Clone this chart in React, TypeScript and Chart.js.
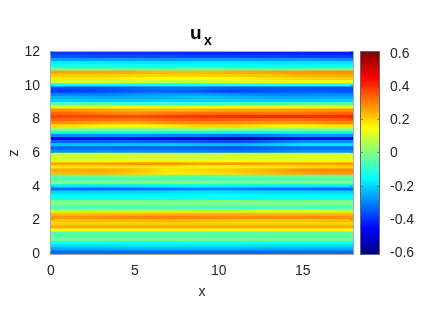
import React, { useEffect, useRef } from "react";
import { Chart, registerables } from "chart.js";

Chart.register(...registerables);

const FONT = "'Liberation Sans', Arial, sans-serif";
const INK = "#262626";

const X_COLUMNS = [1, 3, 5, 7, 9, 11, 13, 15, 17];
const X_MAX = 18;
const Z_MAX = 12;
const X_TICKS = [0, 5, 10, 15];
const Z_TICKS = [0, 2, 4, 6, 8, 10, 12];
const C_TICKS = [-0.6, -0.4, -0.2, 0, 0.2, 0.4, 0.6];
const C_MIN = -0.606;
const C_MAX = 0.612;

// Rows from the top (z = 12) to the bottom (z = 0), one value per x column.
const U_X: number[][] = [
  [-0.38, -0.39, -0.39, -0.4, -0.4, -0.41, -0.41, -0.41, -0.42],
  [-0.35, -0.36, -0.36, -0.36, -0.37, -0.37, -0.37, -0.38, -0.38],
  [-0.26, -0.26, -0.26, -0.27, -0.26, -0.26, -0.27, -0.27, -0.28],
  [-0.17, -0.17, -0.18, -0.18, -0.17, -0.17, -0.18, -0.18, -0.18],
  [-0.13, -0.13, -0.14, -0.14, -0.15, -0.15, -0.15, -0.14, -0.14],
  [-0.02, -0.02, -0.03, -0.03, -0.02, -0.02, -0.03, -0.02, -0.01],
  [0.26, 0.26, 0.25, 0.23, 0.23, 0.25, 0.26, 0.27, 0.28],
  [0.21, 0.21, 0.2, 0.2, 0.2, 0.21, 0.22, 0.24, 0.25],
  [0.18, 0.18, 0.16, 0.15, 0.15, 0.16, 0.18, 0.2, 0.21],
  [0.1, 0.1, 0.09, 0.08, 0.09, 0.11, 0.12, 0.13, 0.13],
  [-0.13, -0.13, -0.13, -0.13, -0.12, -0.12, -0.12, -0.12, -0.12],
  [-0.36, -0.36, -0.34, -0.32, -0.33, -0.35, -0.35, -0.36, -0.36],
  [-0.38, -0.36, -0.34, -0.33, -0.35, -0.37, -0.35, -0.34, -0.35],
  [-0.3, -0.3, -0.28, -0.27, -0.27, -0.29, -0.3, -0.29, -0.29],
  [-0.24, -0.25, -0.25, -0.24, -0.22, -0.23, -0.25, -0.25, -0.25],
  [-0.2, -0.21, -0.21, -0.2, -0.2, -0.2, -0.21, -0.21, -0.2],
  [-0.06, -0.06, -0.07, -0.07, -0.07, -0.06, -0.05, -0.05, -0.05],
  [0.12, 0.12, 0.12, 0.11, 0.12, 0.13, 0.13, 0.13, 0.12],
  [0.28, 0.26, 0.24, 0.24, 0.25, 0.26, 0.26, 0.27, 0.28],
  [0.33, 0.3, 0.28, 0.3, 0.32, 0.32, 0.31, 0.31, 0.33],
  [0.37, 0.37, 0.36, 0.38, 0.39, 0.4, 0.4, 0.4, 0.4],
  [0.33, 0.32, 0.31, 0.33, 0.34, 0.33, 0.32, 0.32, 0.34],
  [0.28, 0.26, 0.25, 0.28, 0.29, 0.28, 0.27, 0.27, 0.29],
  [0.19, 0.16, 0.14, 0.17, 0.2, 0.2, 0.17, 0.16, 0.18],
  [0.04, 0.03, 0.02, 0.03, 0.05, 0.05, 0.03, 0.03, 0.04],
  [-0.11, -0.12, -0.12, -0.12, -0.12, -0.13, -0.14, -0.13, -0.12],
  [-0.28, -0.28, -0.28, -0.29, -0.3, -0.32, -0.3, -0.27, -0.27],
  [-0.45, -0.46, -0.47, -0.49, -0.51, -0.55, -0.54, -0.48, -0.47],
  [-0.33, -0.33, -0.33, -0.34, -0.35, -0.37, -0.33, -0.28, -0.28],
  [-0.22, -0.22, -0.22, -0.21, -0.22, -0.23, -0.21, -0.18, -0.18],
  [-0.33, -0.33, -0.34, -0.34, -0.35, -0.36, -0.34, -0.33, -0.33],
  [-0.28, -0.28, -0.28, -0.29, -0.29, -0.31, -0.3, -0.28, -0.28],
  [0.08, 0.08, 0.09, 0.09, 0.08, 0.08, 0.08, 0.09, 0.09],
  [0.09, 0.09, 0.1, 0.1, 0.09, 0.1, 0.1, 0.11, 0.11],
  [0.13, 0.13, 0.15, 0.16, 0.14, 0.15, 0.14, 0.14, 0.15],
  [0.26, 0.26, 0.28, 0.28, 0.26, 0.27, 0.26, 0.26, 0.26],
  [0.18, 0.18, 0.18, 0.18, 0.16, 0.16, 0.18, 0.19, 0.2],
  [0.25, 0.25, 0.23, 0.18, 0.2, 0.22, 0.24, 0.28, 0.29],
  [0.23, 0.24, 0.21, 0.17, 0.18, 0.2, 0.23, 0.26, 0.27],
  [-0.04, -0.04, -0.03, -0.04, -0.05, -0.04, -0.03, -0.03, -0.03],
  [-0.06, -0.06, -0.05, -0.05, -0.06, -0.06, -0.06, -0.05, -0.05],
  [0, 0, 0, 0.01, 0, -0.01, -0.01, 0, 0],
  [-0.17, -0.18, -0.17, -0.16, -0.16, -0.16, -0.17, -0.17, -0.17],
  [-0.32, -0.33, -0.32, -0.31, -0.29, -0.29, -0.31, -0.32, -0.33],
  [-0.2, -0.2, -0.2, -0.19, -0.18, -0.19, -0.2, -0.2, -0.2],
  [-0.15, -0.15, -0.15, -0.16, -0.15, -0.15, -0.15, -0.15, -0.15],
  [-0.14, -0.14, -0.14, -0.14, -0.14, -0.15, -0.15, -0.15, -0.14],
  [0, 0, 0, 0, 0, 0, 0, 0, 0],
  [-0.02, -0.02, -0.02, -0.02, -0.02, -0.02, -0.02, -0.02, -0.02],
  [-0.07, -0.07, -0.07, -0.07, -0.08, -0.08, -0.07, -0.07, -0.07],
  [0.1, 0.1, 0.1, 0.1, 0.1, 0.1, 0.11, 0.11, 0.1],
  [0.23, 0.23, 0.23, 0.24, 0.24, 0.24, 0.23, 0.23, 0.23],
  [0.27, 0.28, 0.29, 0.3, 0.29, 0.28, 0.28, 0.28, 0.28],
  [0.22, 0.23, 0.23, 0.24, 0.23, 0.22, 0.22, 0.22, 0.23],
  [0.2, 0.2, 0.2, 0.21, 0.21, 0.2, 0.2, 0.2, 0.2],
  [0.25, 0.25, 0.25, 0.25, 0.25, 0.25, 0.25, 0.25, 0.25],
  [0.15, 0.15, 0.15, 0.15, 0.15, 0.15, 0.15, 0.15, 0.15],
  [-0.06, -0.06, -0.06, -0.06, -0.06, -0.06, -0.05, -0.05, -0.05],
  [-0.04, -0.04, -0.04, -0.04, -0.04, -0.04, -0.04, -0.04, -0.04],
  [-0.02, -0.02, -0.02, -0.02, -0.02, -0.02, -0.02, -0.02, -0.02],
  [-0.13, -0.13, -0.13, -0.13, -0.12, -0.12, -0.13, -0.13, -0.13],
  [-0.19, -0.19, -0.18, -0.18, -0.18, -0.18, -0.19, -0.19, -0.19],
  [-0.25, -0.25, -0.24, -0.24, -0.24, -0.24, -0.25, -0.25, -0.25],
  [-0.33, -0.33, -0.33, -0.33, -0.33, -0.33, -0.33, -0.33, -0.33],
];

const JET: [number, number, number][] = [
  [0, 0, 128],
  [0, 0, 255],
  [0, 255, 255],
  [255, 255, 0],
  [255, 0, 0],
  [128, 0, 0],
];
const JET_POS = [0, 0.125, 0.375, 0.625, 0.875, 1];

function jet(v: number): string {
  const t = Math.min(1, Math.max(0, (v + 0.6) / 1.2));
  let k = 0;
  while (k < JET_POS.length - 2 && t > JET_POS[k + 1]) k++;
  const f = (t - JET_POS[k]) / (JET_POS[k + 1] - JET_POS[k]);
  const c = JET[k].map((a, i) => Math.round(a + (JET[k + 1][i] - a) * f));
  return `rgb(${c[0]},${c[1]},${c[2]})`;
}

const rows = U_X.map((values, r) => ({
  x: [0, X_MAX],
  y: Z_MAX - ((r + 0.5) * Z_MAX) / U_X.length,
  values,
}));

const tickFont = { family: FONT, size: 14 };

const frame = {
  id: "frame",
  afterDatasetsDraw(chart: any, _a: any, opts: any) {
    const { left, top, right, bottom } = chart.chartArea;
    const g = chart.ctx;
    g.save();
    g.strokeStyle = opts.color;
    g.lineWidth = 1;
    g.strokeRect(left - 0.5, top - 0.5, right - left + 1, bottom - top + 1);
    g.strokeStyle = opts.tickColor;
    const len = opts.tickLength;
    g.beginPath();
    const ys = chart.scales.y;
    ys.ticks.forEach((t: any) => {
      const p = Math.round(ys.getPixelForValue(t.value)) - 0.5;
      if (opts.leftTicks) {
        g.moveTo(left, p);
        g.lineTo(left + len, p);
      }
      g.moveTo(right, p);
      g.lineTo(right - len, p);
    });
    const xs = chart.scales.x;
    if (opts.xTicks) {
      xs.ticks.forEach((t: any) => {
        const p = Math.round(xs.getPixelForValue(t.value)) - 0.5;
        g.moveTo(p, bottom);
        g.lineTo(p, bottom - len);
        g.moveTo(p, top);
        g.lineTo(p, top + len);
      });
    }
    g.stroke();
    g.restore();
  },
};

const titleText = {
  id: "titleText",
  afterDraw(chart: any) {
    const g = chart.ctx;
    g.save();
    g.fillStyle = "#000";
    g.textBaseline = "alphabetic";
    g.textAlign = "left";
    g.font = `bold 19px ${FONT}`;
    g.fillText("u", 190, 39);
    g.font = `bold 14px ${FONT}`;
    g.fillText("x", 204, 45);
    g.restore();
  },
};

export default function App() {
  const mainRef = useRef<HTMLCanvasElement>(null);
  const barRef = useRef<HTMLCanvasElement>(null);

  useEffect(() => {
    const main = new Chart(mainRef.current as HTMLCanvasElement, {
      type: "bar",
      data: {
        datasets: [
          {
            data: rows as any,
            backgroundColor: (c: any) => {
              const xs = c.chart.scales.x;
              const area = c.chart.chartArea;
              if (!c.raw || !xs || !area) return "#0ff";
              const x0 = xs.getPixelForValue(0);
              const x1 = xs.getPixelForValue(X_MAX);
              const grad = c.chart.ctx.createLinearGradient(x0, 0, x1, 0);
              c.raw.values.forEach((v: number, i: number) => {
                grad.addColorStop(X_COLUMNS[i] / X_MAX, jet(v));
              });
              return grad;
            },
            borderWidth: 0,
            barPercentage: 1,
            categoryPercentage: 1,
          },
        ],
      },
      options: {
        indexAxis: "y",
        responsive: false,
        animation: false,
        layout: { padding: { left: 6, top: 52, right: 83, bottom: 16 } },
        plugins: {
          legend: { display: false },
          tooltip: { enabled: false },
          frame: { color: "#a9a9a9", tickColor: "rgba(90,90,90,0.35)", tickLength: 3, leftTicks: true, xTicks: true },
        } as any,
        scales: {
          x: {
            type: "linear",
            min: 0,
            max: X_MAX,
            offset: false,
            grid: { display: false, offset: false },
            border: { display: false },
            afterFit: (s: any) => { s.height = 47; },
            afterBuildTicks: (s: any) => { s.ticks = X_TICKS.map((value) => ({ value })); },
            ticks: { font: tickFont, color: INK, maxRotation: 0, padding: 1 },
            title: { display: true, text: "x", font: tickFont, color: INK, padding: { top: 3, bottom: 0 } },
          },
          y: {
            type: "linear",
            min: 0,
            max: Z_MAX,
            offset: false,
            grid: { display: false, offset: false },
            border: { display: false },
            afterFit: (s: any) => { s.width = 45; },
            afterBuildTicks: (s: any) => { s.ticks = Z_TICKS.map((value) => ({ value })); },
            ticks: { font: tickFont, color: INK, padding: 3 },
            title: { display: true, text: "z", font: tickFont, color: INK, padding: { top: 0, bottom: 0 } },
          },
        },
      },
      plugins: [frame, titleText],
    } as any);

    const bar = new Chart(barRef.current as HTMLCanvasElement, {
      type: "bar",
      data: {
        labels: ["u_x"],
        datasets: [
          {
            data: [[C_MIN, C_MAX]] as any,
            backgroundColor: (c: any) => {
              const area = c.chart.chartArea;
              if (!area) return "#00f";
              const grad = c.chart.ctx.createLinearGradient(0, area.bottom, 0, area.top);
              JET_POS.forEach((p, i) => grad.addColorStop(p, `rgb(${JET[i].join(",")})`));
              return grad;
            },
            borderWidth: 0,
            barPercentage: 1,
            categoryPercentage: 1,
          },
        ],
      },
      options: {
        responsive: false,
        animation: false,
        layout: { padding: { left: 361, top: 52, right: 0, bottom: 63 } },
        plugins: {
          legend: { display: false },
          tooltip: { enabled: false },
          frame: { color: "#666666", tickColor: "rgba(60,60,60,0.5)", tickLength: 2, leftTicks: true, xTicks: false },
        } as any,
        scales: {
          x: { display: false, offset: true, grid: { offset: true } },
          y: {
            type: "linear",
            position: "right",
            min: C_MIN,
            max: C_MAX,
            grid: { display: false },
            border: { display: false },
            afterFit: (s: any) => { s.width = 57; },
            afterBuildTicks: (s: any) => { s.ticks = C_TICKS.map((value) => ({ value })); },
            ticks: {
              font: tickFont,
              color: INK,
              padding: 3,
              callback: (v: any) => String(Math.round(Number(v) * 10) / 10),
            },
          },
        },
      },
      plugins: [frame],
    } as any);

    return () => {
      main.destroy();
      bar.destroy();
    };
  }, []);

  const pos: React.CSSProperties = { position: "absolute", left: 0, top: 0 };
  return (
    <div style={{ position: "fixed", left: 0, top: 0, width: 436, height: 317, background: "#fff" }}>
      <canvas ref={mainRef} width={436} height={317} style={pos} />
      <canvas ref={barRef} width={436} height={317} style={pos} />
    </div>
  );
}
